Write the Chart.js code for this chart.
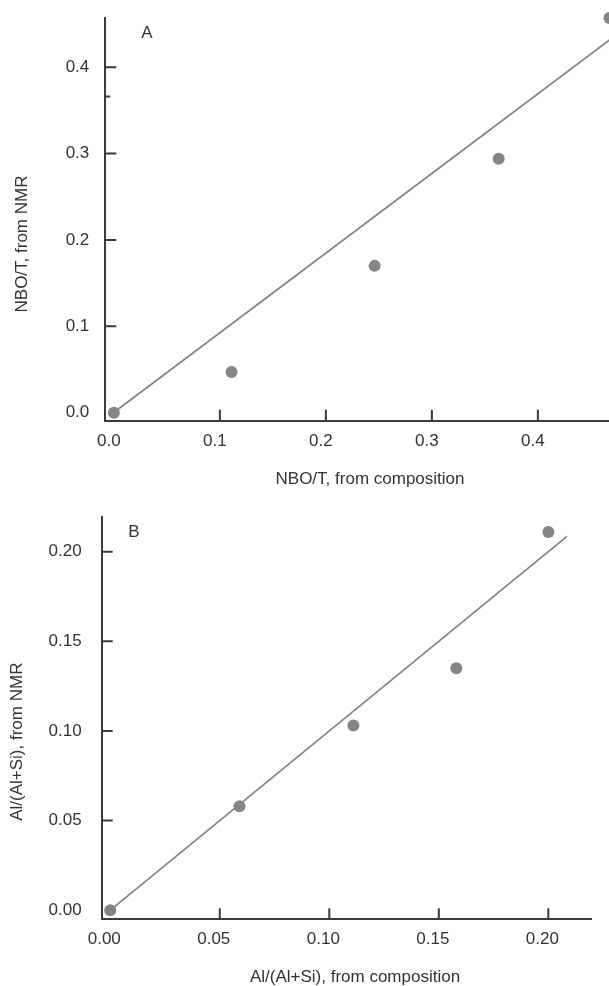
<!DOCTYPE html>
<html>
<head>
<meta charset="utf-8">
<script src="https://cdn.jsdelivr.net/npm/chart.js@4.4.1/dist/chart.umd.min.js"></script>
<style>
  body { margin: 0; background: #fff; }
  canvas { display: block; }
</style>
</head>
<body>
<canvas id="chartA" width="609" height="490"></canvas>
<canvas id="chartB" width="609" height="496"></canvas>
<script>
// panel A: NBO/T
var compA = [0.0, 0.111, 0.246, 0.363, 0.4675];
var nmrA = [0.0, 0.047, 0.170, 0.294, 0.457];
var fitAx = [0.003, 0.468];
var fitAy = [0.003, 0.432];
var xTicksA = [0.0, 0.1, 0.2, 0.3, 0.4];
var yTicksA = [0.0, 0.1, 0.2, 0.3, 0.4];

// panel B: Al/(Al+Si)
var compB = [0.0, 0.059, 0.111, 0.158, 0.200];
var nmrB = [0.0, 0.058, 0.103, 0.135, 0.211];
var fitBx = [0.002, 0.2085];
var fitBy = [0.002, 0.2085];
var xTicksB = [0.00, 0.05, 0.10, 0.15, 0.20];
var yTicksB = [0.00, 0.05, 0.10, 0.15, 0.20];

var FONT = "'Liberation Sans', Arial, sans-serif";
var TEXT = '#333';
var AXIS = '#3a3a3a';
var GRAY = '#858585';

function pairs(xs, ys){
    var out = [];
    for(let i=0; i<xs.length; i++){
        out.push({x: xs[i], y: ys[i]});
    }
    return out;
}

function fixTicks(list){
    return function(scale){
        scale.ticks = list.map(function(v){ return {value: v}; });
    };
}

function noPad(s){
    s.paddingTop = 0; s.paddingBottom = 0;
    s.paddingLeft = 0; s.paddingRight = 0;
}

// inward tick marks + axis titles + panel letter
var decor = {
    id: 'decor',
    afterDraw: function(chart, args, o){
        var ctx = chart.ctx;
        var area = chart.chartArea;
        var xs = chart.scales.x, ys = chart.scales.y;
        ctx.save();
        ctx.strokeStyle = AXIS;
        ctx.lineWidth = 2;
        ctx.beginPath();
        o.xTicks.forEach(function(v){
            if(v == 0) return;
            var px = xs.getPixelForValue(v);
            ctx.moveTo(px, area.bottom);
            ctx.lineTo(px, area.bottom - 11);
        });
        o.yTicks.forEach(function(v){
            if(v == 0) return;
            var py = ys.getPixelForValue(v);
            ctx.moveTo(area.left, py);
            ctx.lineTo(area.left + 11, py);
        });
        (o.marks || []).forEach(function(v){
            var py = ys.getPixelForValue(v);
            ctx.moveTo(area.left, py);
            ctx.lineTo(area.left + 5, py);
        });
        ctx.stroke();

        ctx.fillStyle = TEXT;
        ctx.font = '17px ' + FONT;
        ctx.textAlign = 'center';
        ctx.textBaseline = 'middle';
        ctx.fillText(o.xTitle, o.xTitlePos[0], o.xTitlePos[1]);
        ctx.fillText(o.letter, o.letterPos[0], o.letterPos[1]);
        ctx.translate(o.yTitlePos[0], o.yTitlePos[1]);
        ctx.rotate(-Math.PI/2);
        ctx.fillText(o.yTitle, 0, 0);
        ctx.restore();
    }
};

function makeChart(id, pts, fx, fy, cfg){
    return new Chart(id, {
        type: 'scatter',
        data: {
            datasets: [{
                data: pairs(fx, fy),
                showLine: true,
                borderColor: GRAY,
                borderWidth: 1.8,
                pointRadius: 0,
                fill: false
            }, {
                data: pts,
                backgroundColor: GRAY,
                borderWidth: 0,
                pointRadius: 6,
                pointHoverRadius: 6,
                clip: 10
            }]
        },
        options: {
            responsive: false,
            animation: false,
            events: [],
            layout: {padding: cfg.padding, autoPadding: false},
            plugins: {
                legend: {display: false},
                tooltip: {enabled: false},
                decor: cfg.decor
            },
            scales: {
                x: {
                    type: 'linear',
                    min: cfg.xMin, max: cfg.xMax,
                    afterBuildTicks: fixTicks(cfg.decor.xTicks),
                    afterFit: function(s){ s.height = cfg.xHeight; noPad(s); },
                    grid: {display: false, drawTicks: false, tickLength: 0},
                    border: {display: true, color: AXIS, width: 2},
                    ticks: {
                        color: TEXT, padding: cfg.xPad, maxRotation: 0,
                        labelOffset: cfg.xShift,
                        font: {family: FONT, size: 17},
                        callback: function(v){ return v.toFixed(cfg.dec); }
                    }
                },
                y: {
                    type: 'linear',
                    min: cfg.yMin, max: cfg.yMax,
                    afterBuildTicks: fixTicks(cfg.decor.yTicks),
                    afterFit: function(s){ s.width = cfg.yWidth; noPad(s); },
                    grid: {display: false, drawTicks: false, tickLength: 0},
                    border: {display: true, color: AXIS, width: 2},
                    ticks: {
                        color: TEXT, padding: cfg.yPad,
                        font: {family: FONT, size: 17},
                        callback: function(v){ return v.toFixed(cfg.dec); }
                    }
                }
            }
        },
        plugins: [decor]
    });
}

makeChart('chartA', pairs(compA, nmrA), fitAx, fitAy, {
    padding: {top: 18.3, right: 0, left: 0, bottom: 0},
    xMin: -0.0081, xMax: 0.4671,
    yMin: -0.0093, yMax: 0.4567,
    xHeight: 69.3, yWidth: 105.3,
    xPad: 10, yPad: 16, xShift: -5, dec: 1,
    decor: {
        xTicks: xTicksA, yTicks: yTicksA, marks: [0.366],
        xTitle: 'NBO/T, from composition', xTitlePos: [370, 479],
        yTitle: 'NBO/T, from NMR', yTitlePos: [22, 244],
        letter: 'A', letterPos: [147, 33]
    }
});

makeChart('chartB', pairs(compB, nmrB), fitBx, fitBy, {
    padding: {top: 26.7, right: 17.5, left: 0, bottom: 0},
    xMin: -0.0039, xMax: 0.2197,
    yMin: -0.0051, yMax: 0.2195,
    xHeight: 66.7, yWidth: 101.7,
    xPad: 10, yPad: 20, xShift: -6, dec: 2,
    decor: {
        xTicks: xTicksB, yTicks: yTicksB,
        xTitle: 'Al/(Al+Si), from composition', xTitlePos: [355, 487],
        yTitle: 'Al/(Al+Si), from NMR', yTitlePos: [17.5, 251.7],
        letter: 'B', letterPos: [134, 42]
    }
});
</script>
</body>
</html>
